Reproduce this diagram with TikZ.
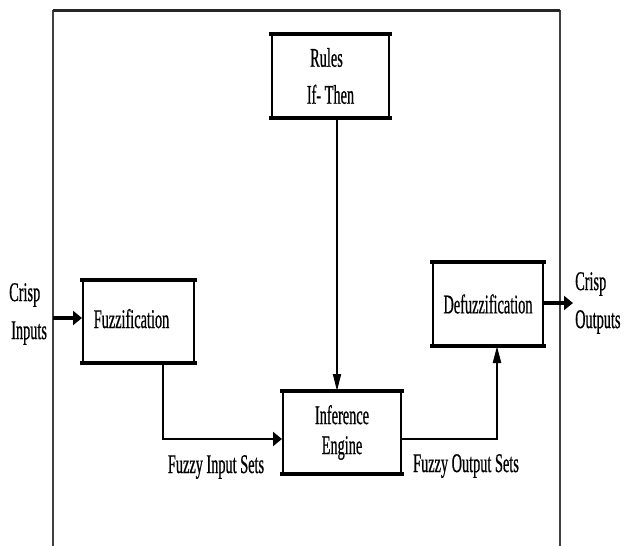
\documentclass[tikz,border=0pt]{standalone}
\usepackage{fontspec}
\setmainfont[FakeStretch=0.53,FakeBold=0.6]{Liberation Serif}
\usetikzlibrary{arrows.meta,calc}
\begin{document}
\begin{tikzpicture}[x=1pt,y=-1pt,
  every node/.style={font=\fontsize{27}{30}\selectfont, inner sep=0pt},
  blockbox/.style={draw=black, line width=2pt, align=center},
  hedge/.style={line width=3.4pt, line cap=rect},
  hconn/.style={draw=black, line width=2.8pt, -{Triangle[length=9pt,width=14pt]}},
  vconn/.style={draw=black, line width=1.8pt, -{Triangle[length=17pt,width=8pt]}},
  lbl/.style={align=left}]
\useasboundingbox (0,0) rectangle (627,546);
% outer frame (open at the bottom)
\draw[line width=1.6pt, black!75] (53,546) -- (53,10) (560,10) -- (560,546);
\draw[line width=3pt, black!85] (53,10) -- (560,10);
% blocks
\node[blockbox, minimum width=117pt, minimum height=82pt] (rules) at (330.5,76) {\hspace*{-8pt}Rules\\[7pt]If- Then};
\node[blockbox, minimum width=111pt, minimum height=81pt] (fuzz) at (138.5,321.5) {\raisebox{6pt}{Fuzzification}\hspace*{14pt}};
\node[blockbox, minimum width=118pt, minimum height=81pt] (inf) at (342,432.5) {Inference\\[0pt]Engine};
\node[blockbox, minimum width=110pt, minimum height=82pt] (defuzz) at (488,304) {Defuzzification};
\foreach \n in {rules,fuzz,inf,defuzz}
  \draw[hedge] (\n.north west) -- (\n.north east) (\n.south west) -- (\n.south east);
% helper coordinates
\coordinate (inL) at (53,318);
\coordinate (outR) at (573,303);
\coordinate (rz) at (337,0);
\coordinate (fz) at (163,0);
\coordinate (fy) at (0,439);
\coordinate (dz) at (497,0);
% texts
\node[lbl, anchor=west] (cin) at (9,314) {Crisp\\[8pt]\hspace*{2pt}Inputs};
\node[lbl, anchor=west] (cout) at (575,303) {Crisp\\[8pt]Outputs};
\node (fis) at (216,467) {Fuzzy Input Sets};
\node (fos) at (466,466) {Fuzzy Output Sets};
% connectors
\draw[hconn, line width=3.4pt] (inL) -- (fuzz.west |- inL);
\draw[vconn] (rules.south -| rz) -- (inf.north -| rz);
\draw[hconn] (fuzz.south -| fz) |- (inf.west |- fy);
\draw[vconn, line width=2.4pt] (inf.east |- fy) -| (defuzz.south -| dz);
\draw[hconn, line width=3.4pt] (defuzz.east |- outR) -- (outR);
\end{tikzpicture}
\end{document}
